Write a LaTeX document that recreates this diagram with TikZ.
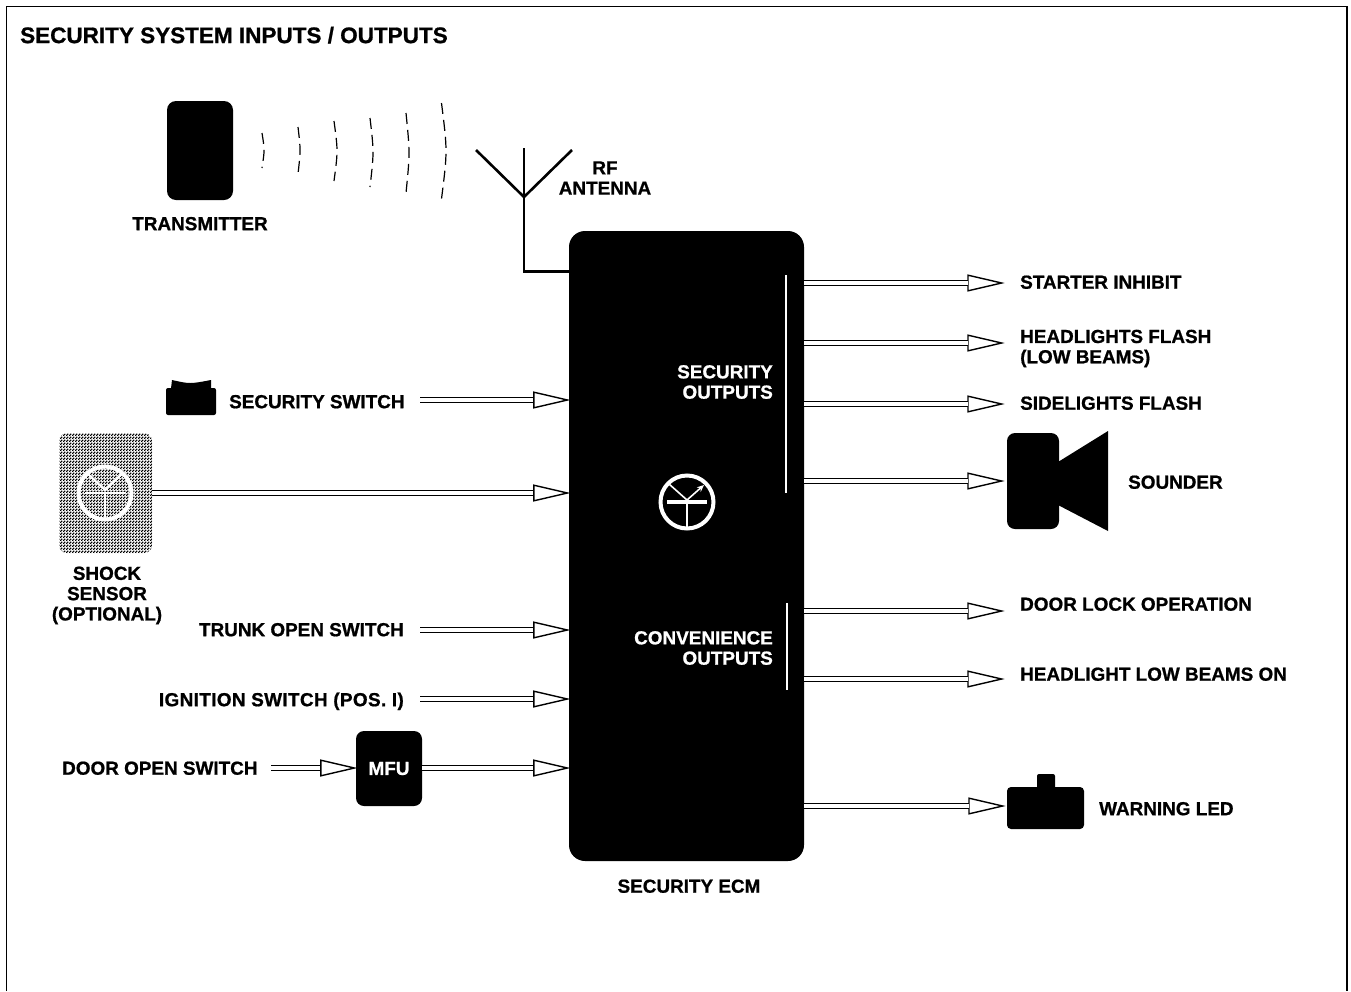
\documentclass[tikz,border=0pt]{standalone}
\usepackage{fontspec}
\setmainfont{Liberation Sans}[BoldFont={Liberation Sans Bold},BoldFeatures={FakeBold=0.9}]
\usetikzlibrary{arrows.meta,patterns}
\pgfdeclarepatternformonly{dither}{\pgfqpoint{0pt}{0pt}}{\pgfqpoint{3pt}{3pt}}{\pgfqpoint{3pt}{3pt}}{%
  \pgfpathrectangle{\pgfqpoint{0pt}{0pt}}{\pgfqpoint{1.7pt}{1.7pt}}%
  \pgfpathrectangle{\pgfqpoint{1.5pt}{1.5pt}}{\pgfqpoint{1.5pt}{1.5pt}}%
  \pgfusepath{fill}}
\tikzset{
  lbl/.style={font=\fontsize{18.9}{20}\selectfont\bfseries, inner sep=0pt, text height=12.4pt, text depth=0pt, text=black},
  multi/.style={font=\fontsize{18.9}{20.3}\selectfont\bfseries, inner sep=0pt, align=#1},
  multi/.default=center,
  blk/.style={fill=black, draw=none, inner sep=0pt},
  conn/.style={
    preaction={draw, line width=1.4pt, shorten >=-1.8pt, -{Triangle[fill=white,length=37.5pt,width=17pt]}},
    postaction={draw, line width=1.5pt, double=white, double distance=3.2pt, shorten >=35.5pt}},
  wave/.style={line width=1.2pt, dash pattern=on 11pt off 6pt},
  wsym/.style={draw=white, line width=#1},
  ant/.style={line width=2.6pt, line cap=butt, line join=miter}
}
\begin{document}
\begin{tikzpicture}[x=1pt,y=-1pt]
\useasboundingbox (0,0) rectangle (1351,991);
% frame
\draw[line width=1.3pt] (6.5,991) -- (6.5,6.5) -- (1347,6.5) -- (1347,991);
\node[anchor=west, font=\fontsize{22.5}{24}\selectfont\bfseries, inner sep=0pt, text height=16.2pt, text depth=0pt] (title) at (20,35) {SECURITY SYSTEM INPUTS / OUTPUTS};

% ECM
\node[blk, minimum width=235pt, minimum height=630pt, rounded corners=16pt] (ecm) at (686.5,546) {};
\node[lbl] (ecmlabel) at (689,886.5) {SECURITY ECM};
\draw[wsym=2.6pt] (786,275) -- (786,493);
\draw[wsym=2.6pt] (787,603) -- (787,690);
\node[multi=right, text=white, anchor=east] (secout) at (773,382) {SECURITY\\OUTPUTS};
\node[multi=right, text=white, anchor=east] (conout) at (773,648) {CONVENIENCE\\OUTPUTS};
% ECM symbol
\draw[wsym=4pt] (687,502) circle (26.5pt);
\draw[wsym=3.8pt] (667,502) -- (707,502);
\draw[wsym=1.6pt] (687,502) -- (687,528);
\draw[wsym=1.6pt] (669,484) -- (687,500);
\draw[wsym=1.6pt, -{Stealth[length=7pt,width=6pt]}] (687,500) -- (704,485);

% transmitter
\node[blk, minimum width=66pt, minimum height=99pt, rounded corners=9pt] (tx) at (200,150.5) {};
\node[lbl] (txlabel) at (200,224) {TRANSMITTER};
\draw[wave] (262,133) .. controls (264.7,150) .. (262,168);
\draw[wave] (298,127) .. controls (300.7,150) .. (298,174);
\draw[wave] (334,121) .. controls (338,151) .. (334,181);
\draw[wave] (370,118) .. controls (374,152) .. (370,187);
\draw[wave] (406,113) .. controls (410,153) .. (406,193);
\draw[wave] (441.5,103) .. controls (447.5,151) .. (441.5,199);

% antenna
\coordinate (antjoin) at (524,197);
\draw[ant] (476,150) -- (antjoin) -- (572,150);
\draw[ant] (524,148) -- (antjoin) -- (524,271.5) -- (ecm.west |- 0,271.5);
\node[multi] (antlabel) at (605,178) {RF\\ANTENNA};

% security switch
\node[blk, minimum width=50pt, minimum height=27pt, rounded corners=2pt] (sw) at (191,401.5) {};
\fill (171,388.5) -- (172,380) .. controls (190,384) .. (211,380) -- (211,388.5) -- cycle;
\node[lbl, anchor=west] (swlabel) at (229,402) {SECURITY SWITCH};
\coordinate (i1) at (420,400);
\path[conn] (i1) -- (ecm.west |- i1);

% shock sensor
\node[minimum width=93pt, minimum height=120pt, inner sep=0pt, rounded corners=8pt, fill=black!62, pattern=dither] (shock) at (105.5,493) {};
\draw[wsym=4pt] (105,493) circle (26.5pt);
\draw[wsym=2.6pt] (85,493) -- (125,493);
\draw[wsym=1.8pt] (105,493) -- (105,518);
\draw[wsym=2.2pt] (88,474) -- (105,490) -- (122,474);
\node[multi] (shocklabel) at (107,595.5) {SHOCK\\SENSOR\\(OPTIONAL)};
\coordinate (i2) at (shock.east);
\path[conn] (i2) -- (ecm.west |- i2);

% other inputs
\node[lbl, anchor=east] (trunk) at (404,630) {TRUNK OPEN SWITCH};
\coordinate (i3) at (420,630);
\path[conn] (i3) -- (ecm.west |- i3);
\node[lbl, anchor=east] (ign) at (404,700) {\addfontfeature{LetterSpace=2}IGNITION SWITCH (POS. I)};
\coordinate (i4) at (420,699);
\path[conn] (i4) -- (ecm.west |- i4);
\node[blk, minimum width=66pt, minimum height=75pt, rounded corners=8pt, text=white, font=\fontsize{18.9}{20}\selectfont\bfseries] (mfu) at (389,768.5) {MFU};
\node[lbl, anchor=west] (door) at (62,768.5) {DOOR OPEN SWITCH};
\coordinate (i5) at (271,768);
\path[conn] (i5) -- (mfu.west |- i5);
\coordinate (i6) at (mfu.east |- i5);
\path[conn] (i6) -- (ecm.west |- i6);

% outputs
\coordinate (t1) at (1003,283);
\path[conn] (ecm.east |- t1) -- (t1);
\node[lbl, anchor=west] (o1) at (1020,282.5) {STARTER INHIBIT};
\coordinate (t2) at (1003,343);
\path[conn] (ecm.east |- t2) -- (t2);
\node[multi=left, anchor=west] (o2) at (1020,348.5) {HEADLIGHTS FLASH\\(LOW BEAMS)};
\coordinate (t3) at (1003,404);
\path[conn] (ecm.east |- t3) -- (t3);
\node[lbl, anchor=west] (o3) at (1020,403.5) {SIDELIGHTS FLASH};

% sounder
\node[blk, minimum width=52pt, minimum height=96pt, rounded corners=8pt] (snd) at (1033,481) {};
\fill (1058,462) -- (1108,431) -- (1108,531) -- (1058,505) -- cycle;
\coordinate (t4) at (1003,481);
\path[conn] (ecm.east |- t4) -- (t4);
\node[lbl, anchor=west] (o4) at (1128,482.5) {SOUNDER};

\coordinate (t5) at (1003,611);
\path[conn] (ecm.east |- t5) -- (t5);
\node[lbl, anchor=west] (o5) at (1020,604.5) {DOOR LOCK OPERATION};
\coordinate (t6) at (1003,679);
\path[conn] (ecm.east |- t6) -- (t6);
\node[lbl, anchor=west] (o6) at (1020,674.5) {HEADLIGHT LOW BEAMS ON};

% warning LED
\node[blk, minimum width=77pt, minimum height=42pt, rounded corners=4pt] (led) at (1045.5,808) {};
\fill[rounded corners=2pt] (1037,790) -- (1037,774) -- (1055,774) -- (1055,790) -- cycle;
\coordinate (t7) at (1004,806);
\path[conn] (ecm.east |- t7) -- (t7);
\node[lbl, anchor=west] (o7) at (1099,809) {WARNING LED};
\end{tikzpicture}
\end{document}
